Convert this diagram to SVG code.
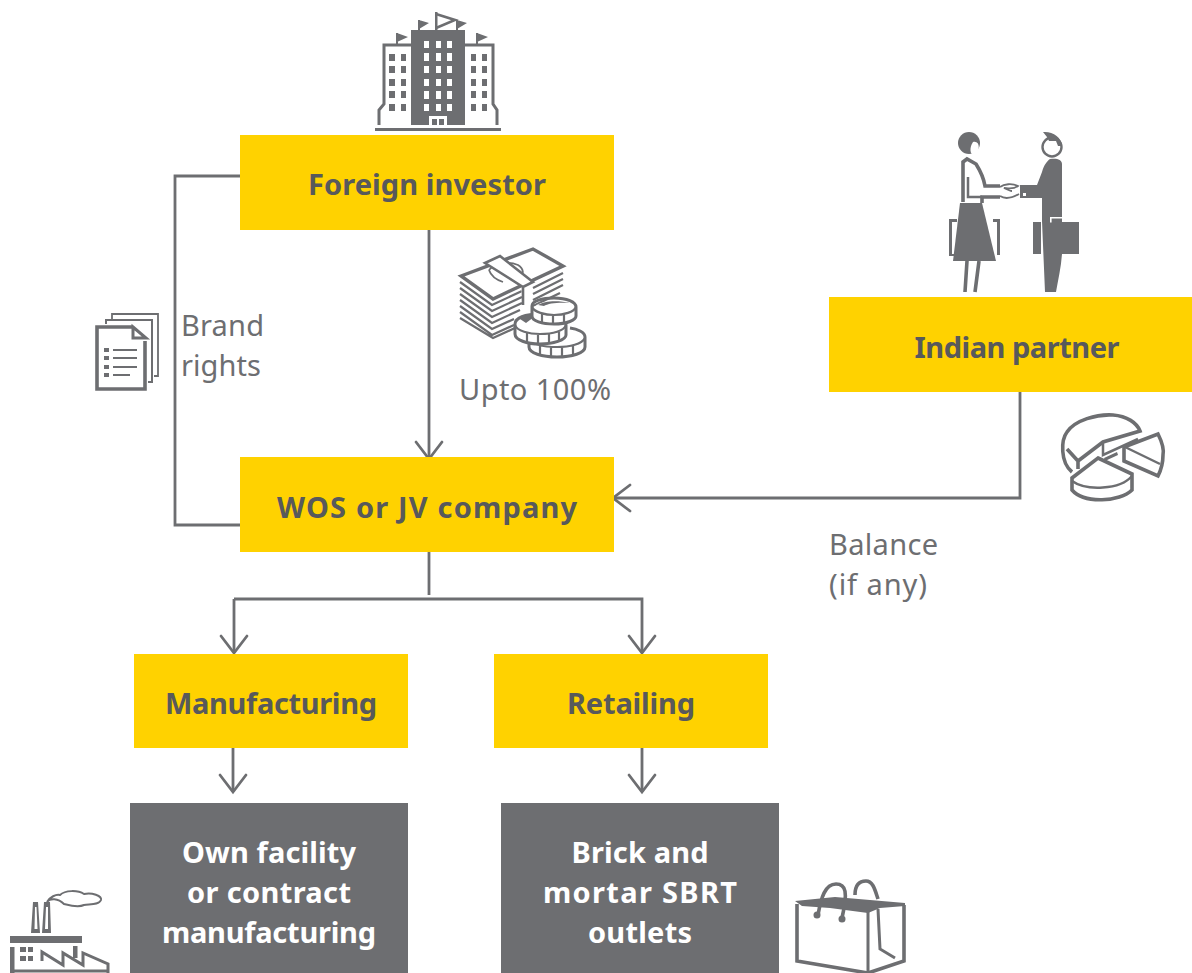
<svg xmlns="http://www.w3.org/2000/svg" width="1192" height="973" viewBox="0 0 1192 973">
<style>
.y{fill:#ffd200}.g{fill:#6d6e71}
.t{font-family:"Noto Sans","Liberation Sans",sans-serif;font-weight:700;font-size:29px;text-anchor:middle;fill:#58595b}
.n{fill:#fff}
.l{font-family:"Noto Sans","Liberation Sans",sans-serif;font-size:29px;fill:#6d6e71}
.c{fill:none;stroke:#6d6e71;stroke-width:2.8}
.i{fill:none;stroke:#6d6e71;stroke-width:2.5}
.h{fill:none;stroke:#6d6e71;stroke-width:3.6}
.m{fill:none;stroke:#6d6e71;stroke-width:1.8}
.d{fill:#6d6e71;stroke:none}
.wh{fill:#fff;stroke:none}
</style>
<defs>
<marker id="a" markerUnits="userSpaceOnUse" markerWidth="30" markerHeight="30" refX="20" refY="15" orient="auto"><path d="M3,2 L20,15 L3,28" fill="none" stroke="#6d6e71" stroke-width="2.8" stroke-linecap="round"/></marker>
</defs>
<rect width="1192" height="973" fill="#fff"/>
<g id="connectors">
<path class="c" d="M240,176H175V525H240"/>
<path class="c" d="M429,230V459" marker-end="url(#a)"/>
<path class="c" d="M1020,392V498H613" marker-end="url(#a)"/>
<path class="c" d="M429,552V595"/>
<path class="c" d="M234,599H642V653" marker-end="url(#a)"/>
<path class="c" d="M234,599V653" marker-end="url(#a)"/>
<path class="c" d="M233,748V792" marker-end="url(#a)"/>
<path class="c" d="M642,748V792" marker-end="url(#a)"/>
</g>
<g id="foreign-investor"><rect class="y" x="240" y="135" width="374" height="95"/><text class="t" x="427" y="195" textLength="238">Foreign investor</text></g>
<g id="indian-partner"><rect class="y" x="829" y="297" width="363" height="95"/><text class="t" x="1017" y="358" textLength="205">Indian partner</text></g>
<g id="wos-jv"><rect class="y" x="240" y="457" width="374" height="95"/><text class="t" x="427" y="518" textLength="300">WOS or JV company</text></g>
<g id="manufacturing"><rect class="y" x="134" y="654" width="274" height="94"/><text class="t" x="271" y="714" textLength="212">Manufacturing</text></g>
<g id="retailing"><rect class="y" x="494" y="654" width="274" height="94"/><text class="t" x="631" y="714" textLength="128">Retailing</text></g>
<g id="own-facility"><rect class="g" x="130" y="803" width="278" height="170"/><text class="t" style="fill:#fff" x="269" y="863" textLength="174">Own facility</text><text class="t" style="fill:#fff" x="269" y="903" textLength="164">or contract</text><text class="t" style="fill:#fff" x="269" y="943" textLength="214">manufacturing</text></g>
<g id="brick-mortar"><rect class="g" x="501" y="803" width="278" height="170"/><text class="t" style="fill:#fff" x="640" y="863" textLength="137">Brick and</text><text class="t" style="fill:#fff" x="640" y="903" textLength="194">mortar SBRT</text><text class="t" style="fill:#fff" x="640" y="943" textLength="104">outlets</text></g>
<g id="labels">
<text class="l" x="181" y="336" textLength="83">Brand</text>
<text class="l" x="181" y="376" textLength="80">rights</text>
<text class="l" x="459" y="400" textLength="152">Upto 100%</text>
<text class="l" x="829" y="555" textLength="109">Balance</text>
<text class="l" x="829" y="595" textLength="98">(if any)</text>
</g>
<g id="icon-building">
<rect class="d" x="411" y="30" width="54" height="95"/>
<path class="wh" d="M424,41h5v7h-5zM436,41h5v7h-5zM447,41h5v7h-5zM424,53h5v8h-5zM436,53h5v8h-5zM447,53h5v8h-5zM424,66h5v7h-5zM436,66h5v7h-5zM447,66h5v7h-5zM424,79h5v7h-5zM436,79h5v7h-5zM447,79h5v7h-5zM424,91h5v8h-5zM436,91h5v8h-5zM447,91h5v8h-5zM424,104h5v7h-5zM436,104h5v7h-5zM447,104h5v7h-5zM429,116h18v9h-18z"/>
<path class="d" d="M432,119h5v6h-5zM439,119h5v6h-5zM389,54h6v7h-6zM401,54h5v7h-5zM389,66h6v7h-6zM401,66h5v7h-5zM389,79h6v7h-6zM401,79h5v7h-5zM389,91h6v7h-6zM401,91h5v7h-5zM389,104h6v7h-6zM401,104h5v7h-5zM471,54h5v7h-5zM482,54h5v7h-5zM471,66h5v7h-5zM482,66h5v7h-5zM471,79h5v7h-5zM482,79h5v7h-5zM471,91h5v7h-5zM482,91h5v7h-5zM471,104h5v7h-5zM482,104h5v7h-5z"/>
<path class="i" d="M411,45H384V104L379,110V125M465,45H493V104L497,110V125" style="stroke-width:3"/>
<rect class="d" x="375" y="128" width="126" height="3"/>
<path class="d" d="M396,33h2v12h-2zM397,33l11,4-11,5zM476,33h2v12h-2zM477,33l11,4-11,5zM418,20h2v10h-2zM419,20l10,3-10,6zM456,20h2v10h-2zM457,20l10,3-10,6zM435,12h2.5v18h-2.5z"/>
<path class="i" d="M436,14L455,20L436,28" style="stroke-width:2.6"/>
</g>
<g id="icon-money">
<path class="wh" d="M459,276L533,247L564,263V285L493,337L459,317Z"/>
<path class="m" style="stroke-width:2.2" d="M460,282L492,305L522,291M460,288L492,311L522,297M460,294L492,317L522,303M460,300L492,323L520,310M460,306L492,329L514,319M460,312L492,335L514,325M460,318L493,338L515,328M533,288L563,273M533,294L563,279M533,300L563,285M533,306L560,293M533,312L545,306"/>
<path class="h" d="M461,276L533,249L563,266L493,299Z" style="stroke-width:3.4"/>
<path class="m" d="M489,270C495,263 508,261 518,265C524,269 524,274 520,276M489,270C491,276 497,280 503,282"/>
<path class="wh" d="M485,263L500,256L533,282L523,287V305L521,286Z"/>
<path class="i" d="M485,263L500,256L533,282L523,287L485,263ZM523,287V305" style="stroke-width:2.6"/>
<ellipse class="wh" cx="557" cy="344" rx="28" ry="14"/>
<path class="h" style="stroke-width:3" d="M529,337V347C529,353 542,357 557,357C572,357 585,353 585,347V337C585,332 577,329 570,328"/>
<path class="m" style="stroke-width:2.2" d="M529,339C533,345 545,347 557,347C570,347 582,344 585,338M540,346v10M551,347v10M562,347v10M573,345v10"/>
<ellipse class="wh" cx="540" cy="330" rx="26" ry="14"/>
<path class="h" style="stroke-width:3" d="M515,324C515,318 525,314 540,314C556,314 566,319 566,325V335C566,340 553,344 540,344C527,344 515,340 515,334Z"/>
<path class="m" style="stroke-width:2.2" d="M515,325C517,331 529,334 540,334C553,334 564,331 566,325M527,333v10M538,334v10M549,334v10M559,332v10"/>
<path class="d" d="M520,319C524,315 532,313 538,314L526,323Z"/>
<ellipse class="wh" cx="554" cy="313" rx="23" ry="12"/>
<path class="h" style="stroke-width:3" d="M532,306C532,301 542,298 554,298C567,298 576,302 576,307V316C576,320 567,324 554,324C542,324 532,321 532,316Z"/>
<path class="m" style="stroke-width:2.2" d="M532,307C534,312 545,315 554,315C564,315 574,312 576,307M542,314v9M553,315v9M564,314v9"/>
<path class="d" d="M538,305C544,301 557,300 570,303C560,302 548,303 544,306Z"/>
</g>
<g id="icon-doc">
<path class="m" d="M112,319V314H158V376H154"/>
<path class="m" d="M106,324V320H152V382H148" style="stroke-width:2"/>
<path class="wh" d="M96,325H133L147,338V389H96Z"/>
<path class="h" d="M133,327H97V389H145V341"/>
<path class="h" style="stroke-width:3" d="M133,327L146,338H133Z"/>
<path class="d" d="M104,348h5v4h-5zM104,356h5v4h-5zM104,365h5v4h-5zM104,373h5v4h-5z"/>
<path class="m" d="M113,350H137M113,358H137M113,367H137M113,375H130"/>
</g>
<g id="icon-people">
<circle class="d" cx="969" cy="143" r="11"/>
<path class="wh" d="M973,142C980,140 981,151 974,155C970,155 969,148 973,142Z"/>
<path class="h" d="M963,202V162L967,159L976,164C981,172 984,180 985,186H1000M1000,197H982V203"/>
<path class="i" d="M968,177V197H982"/>
<path class="d" d="M960,203H982L996,261H953Z"/>
<path class="d" d="M949,219h8v3h-5v32h5v2h-8zM993,219h7v36h-3v-33h-4z"/>
<path class="h" d="M967,261L965,292M979,261L975,292"/>
<path class="i" d="M1000,187C1004,184 1012,183 1018,186C1013,190 1007,188 1004,188C1006,189 1010,191 1012,191M1000,196C1006,200 1012,198 1019,194" style="stroke-width:1.8"/>
<circle class="i" cx="1052" cy="147" r="9.500" style="stroke-width:2.4"/>
<path class="d" d="M1043,132C1052,131 1062,137 1062,146L1058,146L1056,141L1049,141L1047,137Z"/>
<path class="d" d="M1050,159C1056,158 1062,159 1062,164V222H1079V254H1062C1061,268 1058,280 1056,292H1045L1042,221V198H1020V185H1037L1042,172C1044,165 1047,161 1050,159Z"/>
<path class="wh" d="M1023,193h3v3h-3z"/>
<path class="d" d="M1033,222h8v32h-8z"/>
<path class="wh" d="M1050,217h12v1.600h-10.400v4h-1.600z"/>
</g>
<g id="icon-pie">
<path class="h" d="M1072,472C1060,462 1061,440 1067,432C1075,420 1097,414 1113,415C1127,416 1137,423 1140,431L1103,442L1078,461L1067,449M1078,461V469"/>
<path class="i" d="M1103,442V455L1138,439"/>
<path class="d" d="M1104,458l13,-6 1,3-13,6z"/>
<path class="h" d="M1124,447L1158,434C1162,442 1164,450 1163,455C1163,463 1161,470 1158,476L1124,461Z"/>
<path class="i" d="M1125,447L1160,464"/>
<path class="h" d="M1098,458L1132,474V490C1120,502 1084,504 1072,490V478Z"/>
<path class="i" d="M1072,481C1086,491 1120,490 1132,476"/>
</g>
<g id="icon-factory">
<path class="d" d="M33,902h5l2,31h-9zM44,902h6l1,31h-9z"/>
<path class="wh" d="M35,907h1.500l1,22h-3zM46,907h2v22h-3z"/>
<path class="i" d="M47,902C50,897 56,894 60,895C65,890 78,890 84,894C92,892 102,896 101,900C99,905 90,904 84,905C78,908 68,905 64,904C58,898 50,898 47,902Z" style="stroke-width:2"/>
<rect class="d" x="10" y="936" width="72" height="7"/>
<path class="d" d="M10,947h4.500v26h-4.500zM73,946h4.500v12h-4.500zM20,947h6v5h-6zM28,947h5v5h-5zM20,956h6v5h-6zM28,956h5v5h-5z"/>
<path class="i" d="M14,971H108M42,961V952L63,965V953L83,965V953L108,964V973" style="stroke-width:3"/>
</g>
<g id="icon-bag">
<path class="wh" d="M796,902H906V962L868,974L796,961Z"/>
<path class="h" d="M818,915C821,898 825,884 836,884C846,884 848,892 842,918"/>
<path class="h" d="M855,895C855,886 858,881 866,881C873,881 875,890 878,899"/>
<path class="d" d="M795,901L825,898L835,897L905,903V906L880,908L868,913L830,908L802,906Z"/>
<path class="h" d="M797,904V961L868,973L904,961V905"/>
<path class="i" d="M868,912V973M878,909L880,949L895,958" style="stroke-width:3"/>
<circle class="d" cx="817" cy="915" r="3.500"/><circle class="d" cx="842" cy="919" r="3.500"/>
</g>
</svg>
